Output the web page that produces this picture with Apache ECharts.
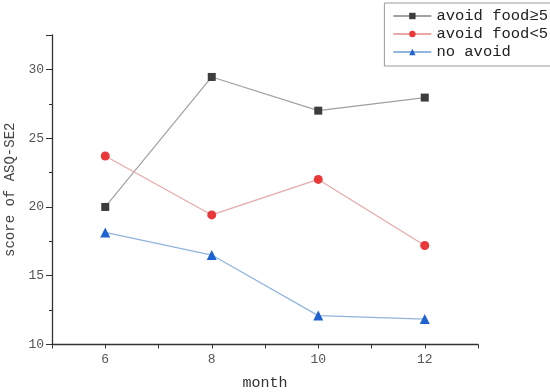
<!DOCTYPE html>
<html><head><meta charset="utf-8">
<script src="https://cdn.jsdelivr.net/npm/echarts@6/dist/echarts.min.js"></script>
<style>html,body{margin:0;padding:0;background:#fff}#c{width:550px;height:392px}</style>
</head><body><div id="c"></div>
<script>
var months = [6, 8, 10, 12];
var seriesNames = ['avoid food≥5', 'avoid food<5', 'no avoid'];
var avoidHigh = [20.0, 29.45, 27.0, 27.95];
var avoidLow = [23.7, 19.42, 22.0, 17.2];
var noAvoid = [18.15, 16.5, 12.1, 11.85];
var xName = 'month';
var yName = 'score of ASQ-SE2';

function pairs(vals){ return months.map(function(m,i){ return [m, vals[i]]; }); }
var font = 'Liberation Mono';
var chart = echarts.init(document.getElementById('c'));
chart.setOption({
  animation: false,
  grid: {left: 52, right: 72, top: 35, bottom: 47.5, outerBoundsMode: 'none', containLabel: false},
  legend: {
    orient: 'vertical', right: -8, top: 3, itemGap: 2,
    borderColor: '#999', borderWidth: 1, padding: [5, 10, 6, 8],
    itemWidth: 38, itemHeight: 8,
    textStyle: {fontFamily: font, fontSize: 15.5, color: '#222'},
    data: seriesNames
  },
  xAxis: {
    type: 'value', min: 5, max: 13, interval: 1,
    name: xName, nameLocation: 'middle', nameGap: 31,
    nameTextStyle: {fontFamily: font, fontSize: 15, color: '#333'},
    axisLine: {lineStyle: {color: '#333', width: 1.3}},
    axisTick: {length: 4, lineStyle: {color: '#333'}},
    axisLabel: {fontFamily: font, fontSize: 13, color: '#555', margin: 9,
      formatter: function(v){ return v % 2 === 0 ? String(v) : ''; }},
    splitLine: {show: false}
  },
  yAxis: {
    type: 'value', min: 10, max: 32.5, interval: 5,
    name: yName, nameLocation: 'middle', nameGap: 32, nameRotate: 90,
    nameTextStyle: {fontFamily: font, fontSize: 14, color: '#444'},
    axisLine: {show: true, lineStyle: {color: '#333', width: 1.3}},
    axisTick: {show: true, length: 6, lineStyle: {color: '#333'}},
    minorTick: {show: true, splitNumber: 2, length: 3, lineStyle: {color: '#333'}},
    axisLabel: {fontFamily: font, fontSize: 13, color: '#555', margin: 8, showMaxLabel: false,
      formatter: function(v){ return (v % 5 === 0 && v <= 30) ? String(v) : ''; }},
    splitLine: {show: false}
  },
  series: [
    {name: seriesNames[0], type: 'line', data: pairs(avoidHigh), symbol: 'rect', symbolSize: 8,
      itemStyle: {color: '#3d3d3d'}, lineStyle: {color: '#a0a0a0', width: 1.2}},
    {name: seriesNames[1], type: 'line', data: pairs(avoidLow), symbol: 'circle', symbolSize: 9,
      itemStyle: {color: '#e8383a'}, lineStyle: {color: '#e8a8a8', width: 1.2}},
    {name: seriesNames[2], type: 'line', data: pairs(noAvoid), symbol: 'triangle', symbolSize: 10,
      itemStyle: {color: '#1f63d0'}, lineStyle: {color: '#90b4dc', width: 1.2}}
  ]
});
</script></body></html>
